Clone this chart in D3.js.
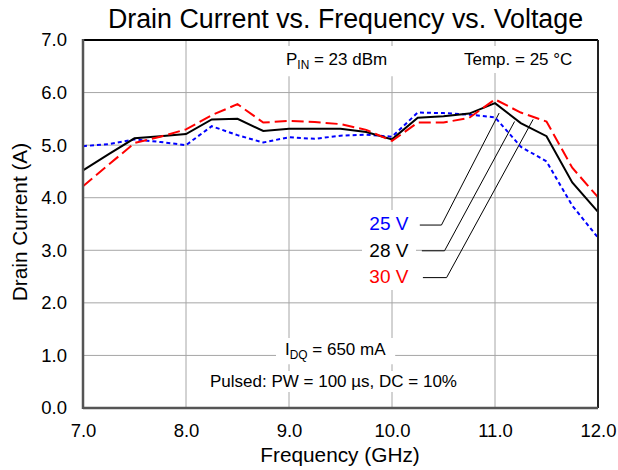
<!DOCTYPE html>
<html><head><meta charset="utf-8">
<script src="https://cdn.jsdelivr.net/npm/d3@7"></script>
<style>
html,body{margin:0;padding:0;background:#fff;}
svg text{font-family:"Liberation Sans",Arial,sans-serif;}
</style></head>
<body><svg id="c" width="618" height="470"></svg>
<script>
const freqs = [7.0,7.25,7.5,7.75,8.0,8.25,8.5,8.75,9.0,9.25,9.5,9.75,10.0,10.25,10.5,10.75,11.0,11.25,11.5,11.75,12.0];
const v25 = [4.98,5.02,5.11,5.06,5.00,5.36,5.19,5.05,5.15,5.12,5.18,5.20,5.16,5.62,5.61,5.58,5.53,4.97,4.69,3.85,3.24];
const v28 = [4.52,4.83,5.13,5.17,5.21,5.49,5.50,5.27,5.31,5.31,5.31,5.25,5.11,5.52,5.55,5.60,5.80,5.42,5.17,4.29,3.73];
const v30 = [4.22,4.63,5.04,5.16,5.30,5.57,5.78,5.43,5.46,5.44,5.40,5.29,5.08,5.43,5.43,5.52,5.87,5.62,5.45,4.57,4.01];
const seriesNames = ["25 V","28 V","30 V"];
const xTicks = [7,8,9,10,11,12];
const yTicks = [0,1,2,3,4,5,6,7];
// legend leader lines in data units: [stubStartX, stubEndX, y, endX, endY]
const leaders = [[10.27,10.48,3.48,11.04,5.61],[10.29,10.51,2.99,11.19,5.45],[10.30,10.53,2.48,11.37,5.49]];
const labelY = [3.39,2.88,2.37];
const labelX = 9.78;

const svg = d3.select("#c");
const L=83,R=598,T=40,B=408;
const x = d3.scaleLinear().domain([7,12]).range([L,R]);
const y = d3.scaleLinear().domain([0,7]).range([B,T]);
const F = '"Liberation Sans",Arial,sans-serif';

// grid
svg.append("g").selectAll("line").data(xTicks.slice(1,-1)).join("line")
  .attr("x1",d=>x(d)).attr("x2",d=>x(d)).attr("y1",T).attr("y2",B)
  .attr("stroke","#a6a6a6").attr("stroke-width",1);
svg.append("g").selectAll("line").data(yTicks.slice(1,-1)).join("line")
  .attr("x1",L).attr("x2",R).attr("y1",d=>y(d)).attr("y2",d=>y(d))
  .attr("stroke","#a6a6a6").attr("stroke-width",1);

// annotations with white boxes
function boxText(tx,ty,parts,size,anchor,color,pad){
  const g = svg.append("g");
  const r = g.append("rect").attr("fill","#fff");
  const t = g.append("text").attr("x",tx).attr("y",ty).attr("font-size",size)
    .attr("text-anchor",anchor||"start").attr("fill",color||"#000");
  parts.forEach(p=>{
    const s=t.append("tspan").text(p.t);
    if(p.sub) s.attr("font-size",size*0.7).attr("dy",size*0.25);
    if(p.up) s.attr("dy",-size*0.25);
  });
  const bb=t.node().getBBox();
  const px=pad?pad[0]:6, py=pad?pad[1]:4;
  r.attr("x",bb.x-px).attr("y",bb.y-py).attr("width",bb.width+2*px).attr("height",bb.height+2*py);
  return g;
}
boxText(286,65,[{t:"P"},{t:"IN",sub:true},{t:" = 23 dBm",up:true}],17,"start","#000",[12,4]);
boxText(464,65,[{t:"Temp. = 25 °C"}],17,"start","#000",[8,4]);
boxText(285,355,[{t:"I"},{t:"DQ",sub:true},{t:" = 650 mA",up:true}],17,"start","#000",[9,2]);
boxText(210,387,[{t:"Pulsed: PW = 100 µs, DC = 10%"}],17,"start","#000",[6,1]);

// legend labels box
const colors=["#0000ff","#000000","#ff0000"];
svg.append("rect").attr("x",362).attr("y",210).attr("width",54).attr("height",80).attr("fill","#fff");
seriesNames.forEach((n,i)=>{
  svg.append("text").attr("x",x(labelX)).attr("y",y(labelY[i])).attr("font-size",19)
    .attr("fill",colors[i]).text(n);
});
svg.append("g").selectAll("path").data(leaders).join("path")
  .attr("d",d=>`M${x(d[0])},${y(d[2])}H${x(d[1])}L${x(d[3])},${y(d[4])}`)
  .attr("fill","none").attr("stroke","#000").attr("stroke-width",1);

// series
const line = d3.line().x((d,i)=>x(freqs[i])).y(d=>y(d));
const series=[{v:v25,c:"#0000ff",dash:"4,3"},{v:v28,c:"#000",dash:null},{v:v30,c:"#ff0000",dash:"12,5"}];
series.forEach(s=>{
  svg.append("path").datum(s.v).attr("d",line).attr("fill","none")
    .attr("stroke",s.c).attr("stroke-width",2).attr("stroke-dasharray",s.dash);
});

// frame
svg.append("line").attr("x1",L).attr("x2",R).attr("y1",T).attr("y2",T).attr("stroke","#000").attr("stroke-width",2);
svg.append("line").attr("x1",R).attr("x2",R).attr("y1",T).attr("y2",B).attr("stroke","#222").attr("stroke-width",2);
svg.append("line").attr("x1",L).attr("x2",R).attr("y1",B).attr("y2",B).attr("stroke","#555").attr("stroke-width",2.5);
svg.append("line").attr("x1",L).attr("x2",L).attr("y1",T-1).attr("y2",B+1).attr("stroke","#555").attr("stroke-width",2.5);

// axes
const xa = svg.append("g").attr("transform",`translate(0,${B})`)
  .call(d3.axisBottom(x).tickValues(xTicks).tickSize(0).tickPadding(16).tickFormat(d3.format(".1f")));
xa.select(".domain").remove();
xa.selectAll("text").attr("font-size",18.5).attr("font-family",F).attr("fill","#000");
const ya = svg.append("g").attr("transform",`translate(${L},0)`)
  .call(d3.axisLeft(y).tickValues(yTicks).tickSize(0).tickPadding(16).tickFormat(d3.format(".1f")));
ya.select(".domain").remove();
ya.selectAll("text").attr("font-size",18.5).attr("font-family",F).attr("fill","#000");

// titles
svg.append("text").attr("x",345.5).attr("y",27.5).attr("text-anchor","middle").attr("font-size",26.8).text("Drain Current vs. Frequency vs. Voltage");
svg.append("text").attr("x",340).attr("y",462).attr("text-anchor","middle").attr("font-size",20.8).text("Frequency (GHz)");
svg.append("text").attr("transform","translate(27,222) rotate(-90)").attr("text-anchor","middle").attr("font-size",20.8).text("Drain Current (A)");
</script></body></html>
